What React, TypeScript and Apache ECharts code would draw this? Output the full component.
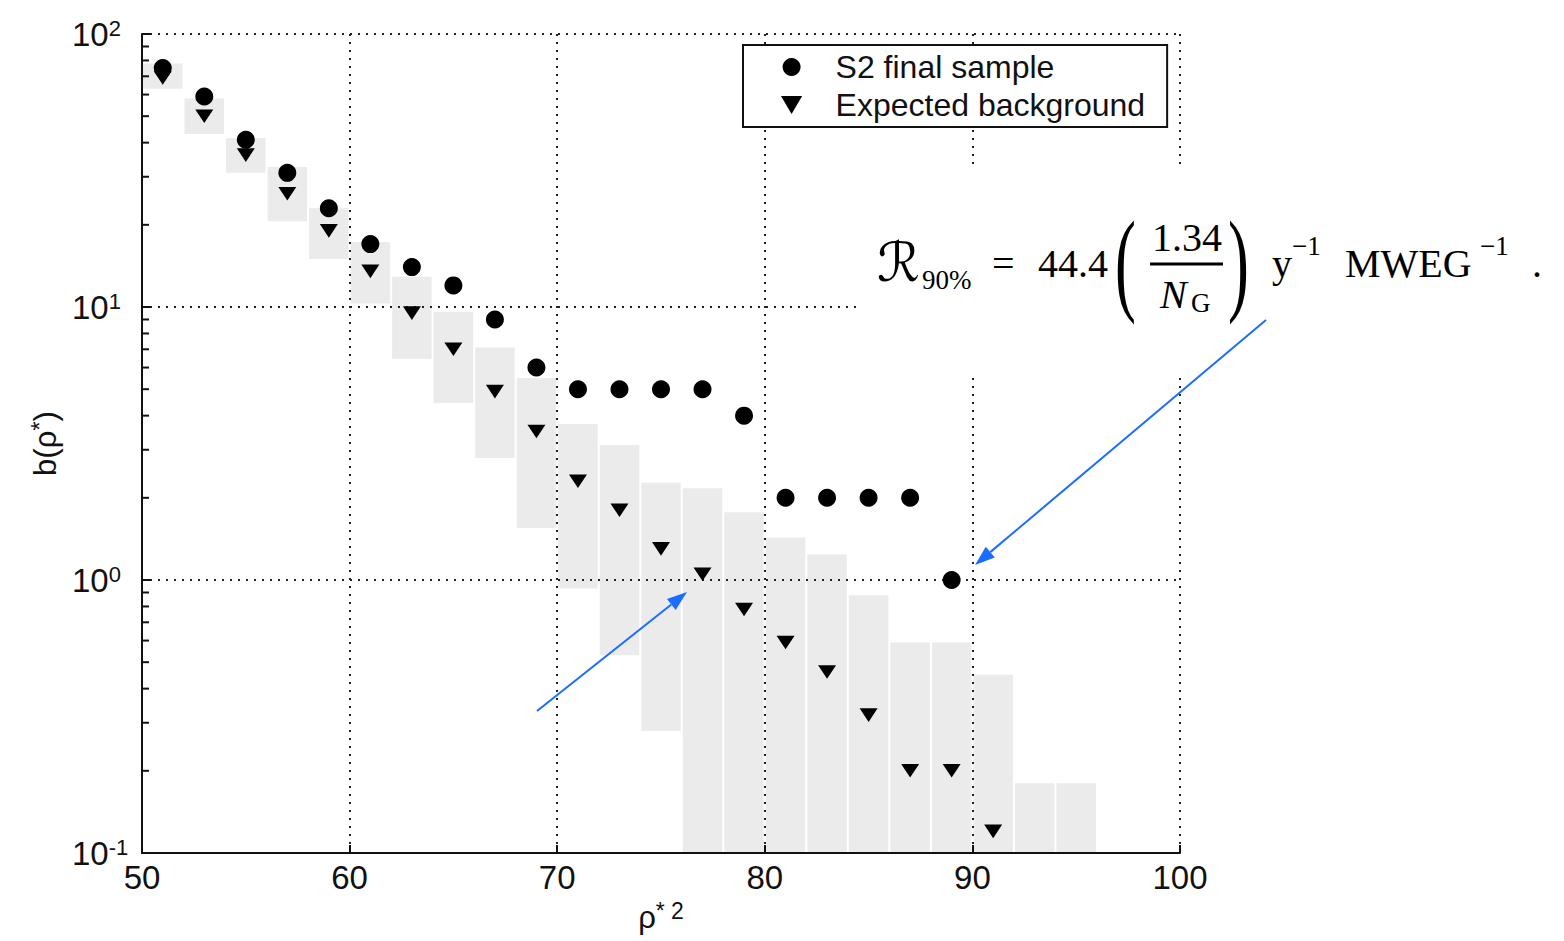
import React, { useEffect, useRef } from "react";
import * as echarts from "echarts";

// ---- data ----
const binCenters = [51, 53, 55, 57, 59, 61, 63, 65, 67, 69, 71, 73, 75, 77, 79, 81, 83, 85, 87, 89, 91, 93, 95];
const bandLow = [63, 43, 31, 20.6, 15, 10.3, 6.45, 4.45, 2.8, 1.55, 0.93, 0.53, 0.28, 0.1, 0.1, 0.1, 0.1, 0.1, 0.1, 0.1, 0.1, 0.1, 0.1];
const bandHigh = [78, 58, 41.6, 32.6, 23, 17.3, 12.9, 9.6, 7.1, 5.5, 3.73, 3.12, 2.27, 2.17, 1.77, 1.43, 1.24, 0.88, 0.59, 0.59, 0.45, 0.18, 0.18];

const sampleX = [51, 53, 55, 57, 59, 61, 63, 65, 67, 69, 71, 73, 75, 77, 79, 81, 83, 85, 87, 89];
const sampleY = [75, 59, 41, 31, 23, 17, 14, 12, 9, 6, 5, 5, 5, 5, 4, 2, 2, 2, 2, 1];

const bkgX = [51, 53, 55, 57, 59, 61, 63, 65, 67, 69, 71, 73, 75, 77, 79, 81, 83, 85, 87, 89, 91];
const bkgY = [69, 50, 36, 26, 19, 13.5, 9.5, 7, 4.9, 3.5, 2.3, 1.8, 1.3, 1.05, 0.78, 0.59, 0.46, 0.32, 0.2, 0.2, 0.12];

const xTicks = { min: 50, max: 100, interval: 10 };
const yDecades = [0.1, 1, 10];
const minorTicks: number[] = [];
yDecades.forEach((d) => {
  for (let k = 2; k <= 9; k++) minorTicks.push(+(k * d).toPrecision(3));
});

const SANS = "'Liberation Sans', Arial, Helvetica, sans-serif";
const SERIF = "'Liberation Serif', 'Times New Roman', serif";
const BLUE = "#1a6dff";
const INK = "#111";

function arrow(x1: number, y1: number, x2: number, y2: number) {
  const ang = Math.atan2(y2 - y1, x2 - x1);
  const L = 20, W = 7;
  const bx = x2 - L * Math.cos(ang), by = y2 - L * Math.sin(ang);
  const px = -Math.sin(ang) * W, py = Math.cos(ang) * W;
  return [
    { type: "line", z: 20, shape: { x1, y1, x2: bx, y2: by }, style: { stroke: BLUE, lineWidth: 2 } },
    { type: "polygon", z: 20, shape: { points: [[x2, y2], [bx + px, by + py], [bx - px, by - py]] }, style: { fill: BLUE } },
  ];
}

function t(text: string, x: number, y: number, size: number, opts: any = {}) {
  return {
    type: "text",
    z: 20,
    x,
    y,
    scaleX: opts.scaleX ?? 1,
    style: {
      text,
      x: 0,
      y: 0,
      fill: "#000",
      font: `${opts.italic ? "italic " : ""}${size}px ${opts.family ?? SERIF}`,
      textAlign: opts.align ?? "left",
      textVerticalAlign: "middle",
    },
  };
}

export default function App() {
  const ref = useRef<HTMLDivElement>(null);
  useEffect(() => {
    document.body.style.margin = "0";
    const chart = echarts.init(ref.current!, null, { renderer: "svg" });
    const gridLine = { color: "#222", width: 2, type: [2, 6] as any };
    const option: any = {
      animation: false,
      backgroundColor: "#fff",
      grid: { left: 142, right: 384, top: 34, bottom: 88 },
      legend: {
        data: ["S2 final sample", "Expected background"],
        orient: "vertical",
        left: 743,
        top: 45,
        padding: [6, 22, 6, 38],
        itemWidth: 78,
        itemHeight: 18,
        itemGap: 6,
        borderColor: INK,
        borderWidth: 2,
        backgroundColor: "#fff",
        textStyle: { fontSize: 32, lineHeight: 32, fontFamily: SANS, color: INK },
      },
      xAxis: {
        type: "value",
        min: xTicks.min,
        max: xTicks.max,
        interval: xTicks.interval,
        z: 1,
        axisLine: { show: true, onZero: false, lineStyle: { color: INK, width: 2 } },
        axisTick: { show: true, inside: true, length: 8, lineStyle: { color: INK, width: 2 } },
        axisLabel: { fontSize: 33, fontFamily: SANS, color: INK, margin: 8 },
        splitLine: { show: true, lineStyle: gridLine },
        name: "{a|ρ}{s|* 2}",
        nameLocation: "middle",
        nameGap: 46,
        nameTextStyle: {
          rich: {
            a: { fontSize: 31, fontFamily: SANS, color: INK, verticalAlign: "bottom", lineHeight: 34 },
            s: { fontSize: 23, fontFamily: SANS, color: INK, verticalAlign: "top", lineHeight: 22 },
          },
        },
      },
      yAxis: {
        type: "log",
        logBase: 10,
        min: 0.1,
        max: 100,
        splitNumber: 3,
        z: 1,
        axisLine: { show: true, lineStyle: { color: INK, width: 2 } },
        axisTick: { show: true, inside: true, length: 9, lineStyle: { color: INK, width: 2 } },
        axisLabel: {
          margin: 70,
          align: "left",
          formatter: (v: number) => `{b|10}{s|${Math.round(Math.log10(v))}}`,
          rich: {
            b: { fontSize: 33, fontFamily: SANS, color: INK, lineHeight: 34, verticalAlign: "middle" },
            s: { fontSize: 22, fontFamily: SANS, color: INK, lineHeight: 22, padding: [0, 0, 16, 0], verticalAlign: "top" },
          },
        },
        splitLine: { show: true, lineStyle: gridLine },
        name: "{a|b(ρ}{s|*}{a|)}",
        nameLocation: "middle",
        nameGap: 80,
        nameRotate: 90,
        nameTextStyle: {
          rich: {
            a: { fontSize: 31, fontFamily: SANS, color: INK, lineHeight: 34, verticalAlign: "bottom" },
            s: { fontSize: 24, fontFamily: SANS, color: INK, lineHeight: 24, verticalAlign: "top" },
          },
        },
      },
      series: [
        {
          name: "bands",
          type: "custom",
          z: 0,
          silent: true,
          data: binCenters.map((x, i) => [x, bandLow[i], bandHigh[i]]),
          encode: { x: 0, y: [1, 2] },
          renderItem: (params: any, api: any) => {
            const x = api.value(0), lo = api.value(1), hi = api.value(2);
            const a = api.coord([x - 1, hi]);
            const b = api.coord([x + 1, lo]);
            return {
              type: "rect",
              shape: { x: a[0] + 1, y: a[1], width: b[0] - a[0] - 2, height: b[1] - a[1] },
              style: { fill: "#ebebeb" },
            };
          },
        },
        {
          name: "minorTicks",
          type: "custom",
          z: 3,
          silent: true,
          data: minorTicks.map((v) => [xTicks.min, v]),
          encode: { x: 0, y: 1 },
          renderItem: (params: any, api: any) => {
            const p = api.coord([api.value(0), api.value(1)]);
            return {
              type: "line",
              shape: { x1: p[0], y1: p[1], x2: p[0] + 7, y2: p[1] },
              style: { stroke: INK, lineWidth: 2 },
            };
          },
        },
        {
          name: "S2 final sample",
          type: "scatter",
          z: 4,
          symbol: "circle",
          symbolSize: 18,
          itemStyle: { color: "#000", opacity: 1 },
          data: sampleX.map((x, i) => [x, sampleY[i]]),
        },
        {
          name: "Expected background",
          type: "scatter",
          z: 4,
          symbol: "path://M0,0L20,0L10,17Z",
          symbolKeepAspect: true,
          symbolSize: [18, 16],
          itemStyle: { color: "#000", opacity: 1 },
          data: bkgX.map((x, i) => [x, bkgY[i]]),
        },
      ],
      graphic: [
        // blank gap in the grid behind the formula
        { type: "rect", z: 10, shape: { x: 856, y: 165, width: 332, height: 213 }, style: { fill: "#fff" } },
        t("ℛ", 877, 262, 54, { family: "'DejaVu Serif','DejaVu Sans',serif" }),
        t("90%", 922, 280, 27),
        t("=", 992, 263, 40),
        t("44.4", 1038, 263, 40),
        t("(", 1115, 262, 114, { scaleX: 0.55 }),
        t("1.34", 1187, 237, 40, { align: "center" }),
        { type: "line", z: 20, shape: { x1: 1150, y1: 264, x2: 1223, y2: 264 }, style: { stroke: "#000", lineWidth: 3 } },
        t("N", 1160, 294, 40, { italic: true }),
        t("G", 1191, 303, 27),
        t(")", 1228, 262, 114, { scaleX: 0.55 }),
        t("y", 1272, 263, 40),
        t("−1", 1292, 246, 27),
        t("MWEG", 1345, 263, 40),
        t("−1", 1480, 246, 27),
        t(".", 1532, 263, 40),
        ...arrow(537, 711, 687, 592),
        ...arrow(1266, 320, 975, 565),
      ],
    };
    chart.setOption(option);
    return () => chart.dispose();
  }, []);
  return <div ref={ref} style={{ width: 1564, height: 941 }} />;
}
